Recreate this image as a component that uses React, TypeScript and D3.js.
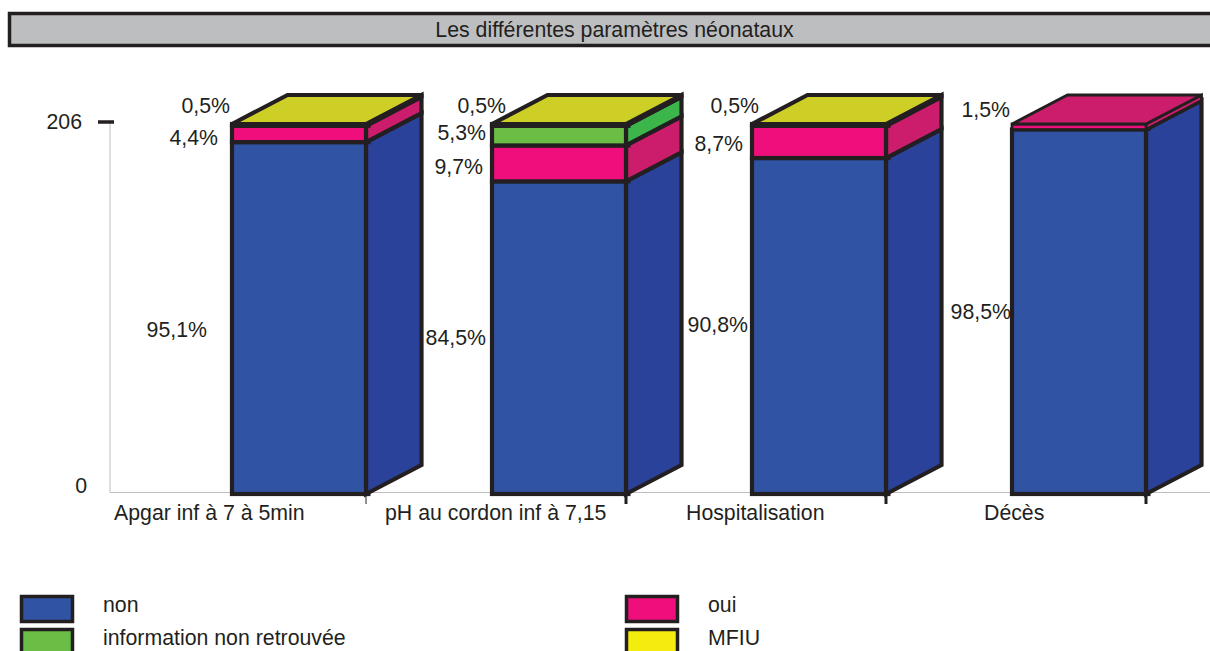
import React from "react";
import * as d3 from "d3";

const categories = ["Apgar inf à 7 à 5min", "pH au cordon inf à 7,15", "Hospitalisation", "Décès"];
const seriesNames = ["non", "oui", "information non retrouvée", "MFIU"];
const non = [95.1, 84.5, 90.8, 98.5];
const oui = [4.4, 9.7, 8.7, 1.5];
const info = [0, 5.3, 0, 0];
const mfiu = [0.5, 0.5, 0.5, 0];
const yTickLabels = ["0", "206"];
const title = "Les différentes paramètres néonataux";

const series = [non, oui, info, mfiu];
const frontColors = ["#3053a4", "#ee0f7c", "#6abd45", "#f4ec0d"];
const sideColors = ["#2b429a", "#cb1d6c", "#3cb54a", "#cdcf26"];
const topColors = ["#2b429a", "#cb1d6c", "#3cb54a", "#cdcf26"];
const ink = "#231f20";
const font = "'Liberation Sans', Arial, sans-serif";

// layout of the value labels: [right edge, centre y] per series per category
const valueLabelPos: Record<string, [number, number]> = {
  "0-0": [207, 330], "0-1": [218, 138], "0-3": [230, 106],
  "1-0": [486, 338], "1-1": [483, 167], "1-2": [486, 133], "1-3": [506, 106],
  "2-0": [748, 325], "2-1": [743, 144], "2-3": [759, 106],
  "3-0": [1011, 312], "3-1": [1010, 110],
};
const catLabelX = [114, 385, 686, 984];
const legendPos = [[20, 595], [625, 595], [20, 628], [625, 628]];

const fmt = (v: number) => v.toFixed(1).replace(".", ",") + "%";

export default function App() {
  const x = d3.scaleBand<string>().domain(categories).range([106, 1146]);
  const y = d3.scaleLinear().domain([0, 100]).range([494, 124]);
  const barW = 134;
  const dx = 55.5;
  const dy = -29;
  const sw = 4.2;
  const thin = 2.8;
  const poly = d3.line();

  return (
    <svg width={1210} height={651} style={{ position: "absolute", left: 0, top: 0, background: "#fff" }} fontFamily={font} fill={ink}>
      <rect x={9.5} y={13.5} width={1230} height={32} fill="#bcbec0" stroke={ink} strokeWidth={3.5} />
      <text x={614.5} y={37} textAnchor="middle" fontSize={21.3}>{title}</text>

      <line x1={110} x2={110} y1={122} y2={492.5} stroke="#bcbec0" strokeWidth={1} />
      <line x1={110} x2={1210} y1={492.5} y2={492.5} stroke="#bcbec0" strokeWidth={1} />
      <line x1={98} x2={114} y1={122} y2={122} stroke={ink} strokeWidth={3.5} />
      <text x={82} y={129} textAnchor="end" fontSize={21.3}>{yTickLabels[1]}</text>
      <text x={87} y={492.5} textAnchor="end" fontSize={21.3}>{yTickLabels[0]}</text>

      {categories.map((c, i) => {
        const x1 = (x(c) as number) + x.bandwidth();
        const x0 = x1 - barW;
        let acc = 0;
        const segs = series.map((s, k) => {
          const start = acc;
          acc += s[i];
          return { k, start, end: acc, v: s[i] };
        }).filter(d => d.v > 0);
        const topSeg = segs[segs.length - 1];
        const yTop = y(topSeg.end);
        const segSw = (v: number) => (v > 1 && v < 2 ? thin : sw);
        return (
          <g key={c}>
            <line x1={x1} x2={x1} y1={493} y2={504} stroke={ink} strokeWidth={i === 0 ? 1 : 3} />
            {segs.map(d => (
              <g key={d.k} stroke={ink} strokeWidth={segSw(d.v)} strokeLinejoin="miter">
                <path
                  d={poly([[x1, y(d.start)], [x1 + dx, y(d.start) + dy], [x1 + dx, y(d.end) + dy], [x1, y(d.end)]]) + "Z"}
                  fill={sideColors[d.k]}
                />
                <rect x={x0} y={y(d.end)} width={barW} height={y(d.start) - y(d.end)} fill={frontColors[d.k]} />
                <line x1={x1} x2={x1 + 4.5} y1={y(d.start)} y2={y(d.start)} />
              </g>
            ))}
            <path
              d={poly([[x0, yTop], [x0 + dx, yTop + dy], [x1 + dx, yTop + dy], [x1, yTop]]) + "Z"}
              fill={topColors[topSeg.k]}
              stroke={ink}
              strokeWidth={segSw(topSeg.v)}
            />
            <text x={catLabelX[i]} y={520} fontSize={21.3}>{c}</text>
            {segs.map(d => {
              const p = valueLabelPos[`${i}-${d.k}`];
              return (
                <text key={d.k} x={p[0]} y={p[1] + 7} textAnchor="end" fontSize={21.3}>{fmt(d.v)}</text>
              );
            })}
          </g>
        );
      })}

      {seriesNames.map((n, k) => {
        const [lx, ly] = legendPos[k];
        return (
          <g key={n}>
            <rect x={lx + 1.5} y={ly + 1.5} width={51} height={25} fill={frontColors[k]} stroke={ink} strokeWidth={3.5} />
            <text x={lx + 83} y={ly + 17} fontSize={21.3}>{n}</text>
          </g>
        );
      })}
    </svg>
  );
}
